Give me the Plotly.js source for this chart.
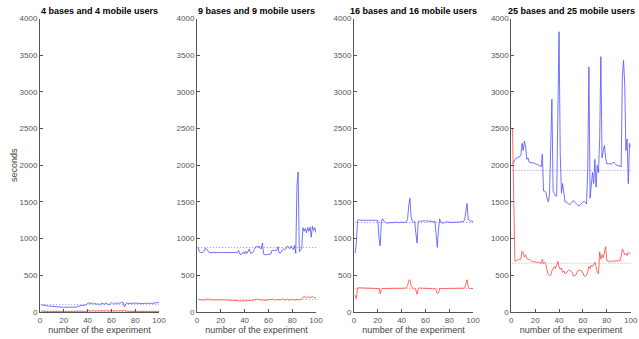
<!DOCTYPE html>
<html>
<head>
<meta charset="utf-8">
<script src="https://cdn.plot.ly/plotly-3.0.1.min.js"></script>
<style>
  html, body { margin: 0; padding: 0; background: #fff; }
  #chart { width: 639px; height: 339px; }
</style>
</head>
<body>
<div id="chart"></div>
<script>
// Experiment index (1..100)
const experiments = Array.from({length: 100}, (_, i) => i + 1);

const panelTitles = [
  "4 bases and 4 mobile users",
  "9 bases and 9 mobile users",
  "16 bases and 16 mobile users",
  "25 bases and 25 mobile users"
];

// Blue series (seconds) per panel
const blue4 = [100,95,100,90, 80,78,80,80,78,75,72,70,68,70,72,
  68,65,65,65,66,65,64,65,66,65,65,64,66,65,65,70,75,
  85,88,90,88,92,95,100, 118,125,115,120,122,110,
  118,110,105,112,100,108,120,115,102,125,118,110,100,112,130,120,105,118,125,110,130,115,122,135,128,70,110,125,115,118,
  120,125,118,122,120,
  118,120,115,118,120,118,115,118,120,118,120,118,115,118,120,122,118,120,125,130];
const red4 = [12,10,9,8,8,8,8,8,8,8, 8,8,8,8,8,8,8,8,8,8, 8,8,8,8,8,8,8,8,8,8,
  8,8,8,8,8,8,8,8,9,10, 22,15,10,18,25,12,10,20,14,10, 16,22,12,10,18,25,14,10,20,12,
  16,24,12,18,10,22,14,20,10,15, 25,12,10,8,8,8,8,8,8,8, 8,8,8,8,8,8,8,8,8,8, 8,8,8,8,8,8,8,8,8,8];

const blue9 = [880,820,810,810,810,830,870,860,830,815,
  810,810,810,810,810,810,810,810,810,810,
  810,810,810,810,810,810,810,810,810,810,
  810,810,810,810,840,790,780,800,820,790,
  830,800,840,860,800,800,810,850,870,900,
  880,900,870,860,940,790,780,780,780,780,
  780,790,840,840,840,850,840,890,810,800,
  830,850,860,850,870,900,880,860,900,880,
  850,910,800,1720,1910,820,850,870,1150,1100,
  1140,1080,1150,1100,1160,1020,1170,1110,1150,1080];
const red9 = [170,165,165,165,165,165,165,165,180,170,
  165,165,166,165,164,165,165,166,165,165,
  165,165,165,165,165,165,165,162,162,160,
  160,160,158,158,155,150,150,152,150,150,
  152,150,155,150,152,158,160,165,170,180,
  175,170,165,170,165,160,158,160,160,158,
  160,165,170,175,165,160,170,165,160,165,
  170,180,165,160,170,175,160,165,170,175,
  165,160,170,165,160,165,170,175,200,210,
  205,195,200,210,195,205,210,200,190,205];

const blue16 = [800,950,1250,1260,1250,1250,1260,1250,1255,1260,
  1250,1255,1250,1250,1255,1250,1250,1250,1245,1250,
  1000,900,1230,1270,1240,1220,1215,1210,1215,1220,
  1220,1215,1220,1220,1225,1220,1215,1220,1225,1220,
  1220,1225,1220,1230,1260,1450,1550,1300,1240,1230,
  1230,1070,940,1230,1240,1235,1240,1250,1245,1240,
  1235,1240,1240,1235,1230,1235,1230,1240,1100,880,
  1130,1270,1220,1215,1210,1220,1225,1220,1230,1220,
  1220,1215,1220,1225,1220,1220,1215,1220,1225,1230,
  1230,1235,1260,1420,1480,1260,1240,1235,1240,1230];
const red16 = [230,180,330,330,325,325,330,325,325,330,
  325,325,325,325,325,325,325,325,325,325,
  320,250,310,320,320,315,320,320,320,320,
  320,320,320,320,320,320,320,320,320,320,
  320,320,325,330,360,430,440,360,330,325,
  320,300,240,320,330,325,325,330,325,325,
  325,325,320,320,320,320,315,320,300,250,
  260,320,320,320,320,320,320,320,320,320,
  320,320,320,320,320,320,320,320,320,320,
  320,320,325,380,440,340,320,320,320,320];

const blue25 = [2020,2050,2080,2100,2100,2110,2120,2130,2300,2200,
  2330,2250,2080,2100,2040,2040,2040,2030,2030,2020,
  2020,2010,2000,1990,1980,2150,1650,1650,1630,1550,
  1500,1600,2250,2900,1650,1600,1580,1580,2700,3820,
  2150,1620,1750,1600,1500,1500,1490,1470,1460,1480,
  1500,1520,1500,1480,1460,1450,1450,1460,1480,1500,
  1510,1490,1470,1950,3340,1550,1700,1900,1750,2080,
  1700,2000,1900,2350,3480,2100,2200,2270,2100,2020,
  2020,2020,2010,2020,2030,2040,2020,2000,2000,1990,
  1990,1980,3200,3430,3100,2200,2360,1750,2300,2250];
const red25 = [2500,1580,690,700,710,710,720,720,830,810,
  750,780,730,720,720,710,690,690,680,690,
  680,670,680,670,660,720,660,680,650,560,
  510,500,500,560,590,620,590,650,690,620,
  580,600,540,560,520,530,560,570,570,560,
  540,490,490,500,540,570,570,570,560,530,
  490,490,500,550,620,590,640,620,650,680,
  620,540,520,820,720,780,740,830,890,700,
  690,690,690,690,690,690,690,690,690,690,
  700,760,860,820,780,800,770,810,800,810];

// Average levels drawn as dotted reference lines
const blueMean = [100, 880, 1220, 1930];
const redMean = [10, 170, 320, 665];

const blueSeries = [blue4, blue9, blue16, blue25];
const redSeries = [red4, red9, red16, red25];

const BLUE = "rgba(80,80,255,0.8)";
const RED = "rgba(255,70,70,0.8)";
const BLUE_DOT = "rgba(110,110,255,0.9)";
const RED_DOT = "rgba(255,110,110,0.9)";

const domains = [
  [40/639, 159/639],
  [197/639, 316/639],
  [354/639, 473/639],
  [511.3/639, 630.7/639]
];
const yDomain = [1 - 312/339, 1 - 18.5/339];

const FONT = "Liberation Sans, Arial, sans-serif";
const traces = [];
const layout = {
  width: 639, height: 339,
  margin: {l: 0, r: 0, t: 0, b: 0},
  paper_bgcolor: "#fff", plot_bgcolor: "#fff",
  showlegend: false,
  font: {family: FONT, size: 8, color: "#555"},
  annotations: []
};

for (let p = 0; p < 4; p++) {
  const xa = p === 0 ? "x" : "x" + (p + 1);
  const ya = p === 0 ? "y" : "y" + (p + 1);
  const xFirst = experiments[0], xLast = experiments[experiments.length - 1];

  traces.push({x: [xFirst, xLast], y: [blueMean[p], blueMean[p]], xaxis: xa, yaxis: ya,
    mode: "lines", line: {color: BLUE_DOT, width: 0.9, dash: "1px,2px"}, hoverinfo: "skip"});
  traces.push({x: [xFirst, xLast], y: [redMean[p], redMean[p]], xaxis: xa, yaxis: ya,
    mode: "lines", line: {color: RED_DOT, width: 0.9, dash: "1px,2px"}, hoverinfo: "skip"});
  traces.push({x: experiments, y: blueSeries[p], xaxis: xa, yaxis: ya,
    mode: "lines", line: {color: BLUE, width: 1}});
  traces.push({x: experiments, y: redSeries[p], xaxis: xa, yaxis: ya,
    mode: "lines", line: {color: RED, width: 1}});

  layout["xaxis" + (p === 0 ? "" : p + 1)] = {
    domain: domains[p], anchor: ya, range: [0, 100],
    tickvals: [0, 20, 40, 60, 80, 100],
    ticks: "inside", ticklen: 3, tickcolor: "#555", tickwidth: 1,
    showline: true, linecolor: "#555", linewidth: 1,
    showgrid: false, zeroline: false, fixedrange: true,
    tickfont: {family: FONT, size: 8, color: "#555"},
    title: {text: "number of the experiment", standoff: 3,
      font: {family: FONT, size: 9, color: "#444"}}
  };
  layout["yaxis" + (p === 0 ? "" : p + 1)] = {
    domain: yDomain, anchor: xa, range: [0, 4000],
    tickvals: [0, 500, 1000, 1500, 2000, 2500, 3000, 3500, 4000],
    ticks: "inside", ticklen: 3, tickcolor: "#555", tickwidth: 1,
    showline: true, linecolor: "#555", linewidth: 1,
    showgrid: false, zeroline: false, fixedrange: true,
    tickfont: {family: FONT, size: 8, color: "#555"},
    title: p === 0 ? {text: "seconds", standoff: 0,
      font: {family: FONT, size: 9, color: "#444"}} : {text: ""}
  };

  layout.annotations.push({
    text: "<b>" + panelTitles[p] + "</b>",
    xref: "paper", yref: "paper",
    x: (domains[p][0] + domains[p][1]) / 2, y: 1 - 10.5/339,
    xanchor: "center", yanchor: "middle", showarrow: false,
    font: {family: FONT, size: 9, color: "#000"}
  });
}

Plotly.newPlot("chart", traces, layout, {displayModeBar: false, staticPlot: true});
</script>
</body>
</html>
